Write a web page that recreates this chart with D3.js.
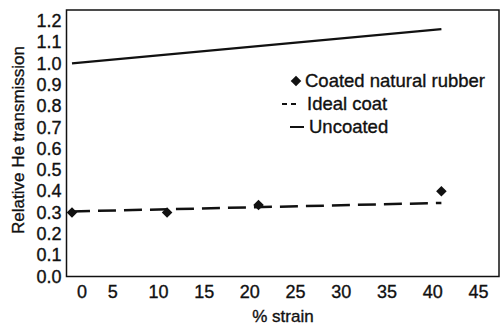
<!DOCTYPE html>
<html>
<head>
<meta charset="utf-8">
<script src="https://cdn.jsdelivr.net/npm/d3@7"></script>
<style>
  body { margin: 0; background: #fff; }
  svg { display: block; font-family: "Liberation Sans", Arial, sans-serif; }
  svg text { stroke: #111; stroke-width: 0.35px; }
</style>
</head>
<body>
<div id="chart"></div>
<script>
// data
const coatedStrain = [0.6, 11, 21, 41];
const coatedValues = [0.30, 0.30, 0.335, 0.40];
const idealStrain = [0.6, 41];
const idealValues = [0.305, 0.345];
const uncoatedStrain = [0.6, 41];
const uncoatedValues = [1.0, 1.16];
const xTicks = [0, 5, 10, 15, 20, 25, 30, 35, 40, 45];
const yTicks = [0, 0.1, 0.2, 0.3, 0.4, 0.5, 0.6, 0.7, 0.8, 0.9, 1.0, 1.1, 1.2];
const legendLabels = ["Coated natural rubber", "Ideal coat", "Uncoated"];

const width = 502,
    height = 326,
    plotLeft = 66.5,
    plotRight = 499,
    plotTop = 10,
    plotBottom = 276.5,
    ink = "#111";

const svg = d3.select("#chart")
    .append("svg")
    .attr("width", width)
    .attr("height", height);

// Scales
const xScale = d3.scaleLinear()
    .domain([0, 47.3])
    .range([plotLeft, plotRight]);

const yScale = d3.scaleLinear()
    .domain([0, 1.25])
    .range([plotBottom, plotTop]);

// Axes (no tick marks, just labels)
const xAxis = d3.axisBottom(xScale)
    .tickValues(xTicks)
    .tickSize(0)
    .tickPadding(9)
    .tickFormat(d3.format("d"));

const yAxis = d3.axisLeft(yScale)
    .tickValues(yTicks)
    .tickSize(0)
    .tickPadding(5)
    .tickFormat(d3.format(".1f"));

const gx = svg.append("g")
    .attr("transform", "translate(0," + plotBottom + ")")
    .call(xAxis);
gx.select(".domain").remove();
gx.selectAll("text")
    .attr("font-size", 18)
    .attr("font-family", "Liberation Sans, Arial, sans-serif")
    .attr("fill", ink)
    .filter(d => d === 0)
    .attr("dx", 15); // the "0" sits clear of the frame in the original

const gy = svg.append("g")
    .attr("transform", "translate(" + plotLeft + ",0)")
    .call(yAxis);
gy.select(".domain").remove();
gy.selectAll("text")
    .attr("font-size", 18)
    .attr("font-family", "Liberation Sans, Arial, sans-serif")
    .attr("fill", ink);

// Frame
svg.append("rect")
    .attr("x", plotLeft)
    .attr("y", plotTop)
    .attr("width", plotRight - plotLeft)
    .attr("height", plotBottom - plotTop)
    .attr("fill", "none")
    .attr("stroke", ink)
    .attr("stroke-width", 1.5);

// Lines
const line = d3.line()
    .x(d => xScale(d[0]))
    .y(d => yScale(d[1]));

svg.append("path")
    .datum(d3.zip(uncoatedStrain, uncoatedValues))
    .attr("d", line)
    .attr("fill", "none")
    .attr("stroke", ink)
    .attr("stroke-width", 2.2);

svg.append("path")
    .datum(d3.zip(idealStrain, idealValues))
    .attr("d", line)
    .attr("fill", "none")
    .attr("stroke", ink)
    .attr("stroke-width", 2.5)
    .attr("stroke-dasharray", "18,8");

// Coated points
const diamond = d3.symbol().type(d3.symbolSquare).size(56);

svg.selectAll(".pt")
    .data(d3.zip(coatedStrain, coatedValues))
    .enter()
    .append("path")
    .attr("class", "pt")
    .attr("d", diamond)
    .attr("transform", d => "translate(" + xScale(d[0]) + "," + yScale(d[1]) + ") rotate(45)")
    .attr("fill", ink);

// Legend
const legend = svg.append("g");
const rowY = [81, 104, 127];

legend.append("path")
    .attr("d", diamond)
    .attr("transform", "translate(296," + rowY[0] + ") rotate(45)")
    .attr("fill", ink);

legend.append("line")
    .attr("x1", 282).attr("x2", 297)
    .attr("y1", rowY[1]).attr("y2", rowY[1])
    .attr("stroke", ink)
    .attr("stroke-width", 2)
    .attr("stroke-dasharray", "5,4");

legend.append("line")
    .attr("x1", 290).attr("x2", 304)
    .attr("y1", rowY[2]).attr("y2", rowY[2])
    .attr("stroke", ink)
    .attr("stroke-width", 2);

legend.selectAll("text")
    .data(legendLabels)
    .enter()
    .append("text")
    .attr("x", (d, i) => [305, 307, 309][i])
    .attr("y", (d, i) => rowY[i])
    .attr("dy", "0.35em")
    .attr("font-size", 18.5)
    .attr("fill", ink)
    .text(d => d);

// Axis titles
svg.append("text")
    .attr("transform", "translate(24,140) rotate(-90)")
    .attr("text-anchor", "middle")
    .attr("font-size", 17)
    .attr("fill", ink)
    .text("Relative He transmission");

svg.append("text")
    .attr("x", 283)
    .attr("y", 316)
    .attr("dy", "0.35em")
    .attr("text-anchor", "middle")
    .attr("font-size", 17)
    .attr("fill", ink)
    .text("% strain");
</script>
</body>
</html>
